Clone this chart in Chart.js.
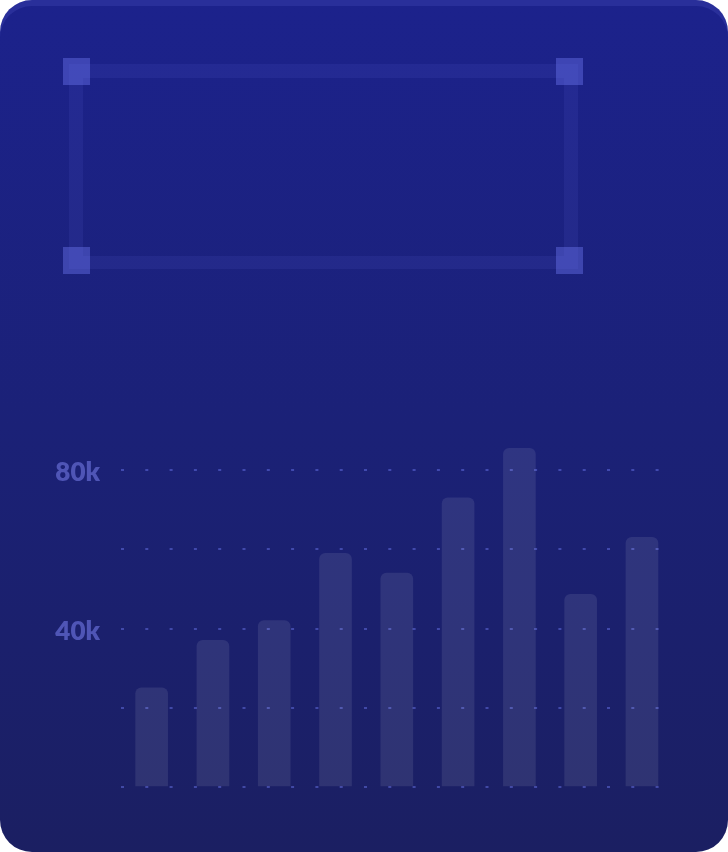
<!DOCTYPE html>
<html>
<head>
<meta charset="utf-8">
<script src="https://cdn.jsdelivr.net/npm/chart.js@4"></script>
<style>
  html, body { margin: 0; padding: 0; background: #ffffff; }
  body { width: 728px; height: 852px; position: relative; overflow: hidden; }
  .card {
    position: absolute; left: 0; top: 0; width: 728px; height: 852px;
    border-radius: 32px;
    background: linear-gradient(180deg, #1c228c 0%, #1b2177 50%, #1b1f62 100%);
    box-shadow: inset 0 6px 0 rgba(130,140,255,0.13);
    overflow: hidden;
  }
  .bar { position: absolute; background: rgba(110,120,240,0.1); }
  .sq { position: absolute; width: 27px; height: 27px; background: rgba(110,120,240,0.42); }
  #wrap { position: absolute; left: 40px; top: 380px; width: 660px; height: 420px; }
</style>
</head>
<body>
<div class="card">
  <div class="bar" style="left:69px; top:64px; width:509px; height:14px;"></div>
  <div class="bar" style="left:69px; top:256px; width:509px; height:13px;"></div>
  <div class="bar" style="left:69px; top:78px; width:14px; height:178px;"></div>
  <div class="bar" style="left:564px; top:78px; width:14px; height:178px;"></div>
  <div class="sq" style="left:63px; top:58px;"></div>
  <div class="sq" style="left:556px; top:58px;"></div>
  <div class="sq" style="left:63px; top:247px;"></div>
  <div class="sq" style="left:556px; top:247px;"></div>
  <div id="wrap"><canvas id="c" width="660" height="420"></canvas></div>
</div>
<script>
const categories = ['1', '2', '3', '4', '5', '6', '7', '8', '9'];
const values = [25000, 37000, 42000, 59000, 54000, 73000, 85500, 48600, 63000];
const labeledTicks = [40000, 80000];
const tickLabel = v => (v / 1000) + 'k';

new Chart(document.getElementById('c'), {
  type: 'bar',
  data: {
    labels: categories,
    datasets: [{
      data: values,
      backgroundColor: 'rgba(255,255,255,0.09)',
      borderWidth: 0,
      borderRadius: 6,
      borderSkipped: 'start',
      barThickness: 32
    }]
  },
  options: {
    responsive: false,
    animation: false,
    layout: { padding: { top: 10.75, bottom: 13, right: 27.4, left: 0 } },
    plugins: { legend: { display: false }, tooltip: { enabled: false } },
    scales: {
      x: { display: false },
      y: {
        min: 0, max: 100000,
        afterFit: s => { s.width = 81; s.paddingTop = 0; s.paddingBottom = 0; },
        ticks: {
          stepSize: 20000,
          padding: 21,
          labelOffset: 3,
          color: '#4f55b6',
          font: { family: 'Lato', size: 26, weight: '800' },
          callback: v => labeledTicks.includes(v) ? tickLabel(v) : ''
        },
        grid: {
          drawTicks: false,
          lineWidth: 2,
          color: ctx => (ctx.tick && ctx.tick.value > 80000) ? 'rgba(0,0,0,0)' : 'rgba(120,130,255,0.42)'
        },
        border: { display: false, dash: [3, 21.3] }
      }
    }
  }
});
</script>
</body>
</html>
